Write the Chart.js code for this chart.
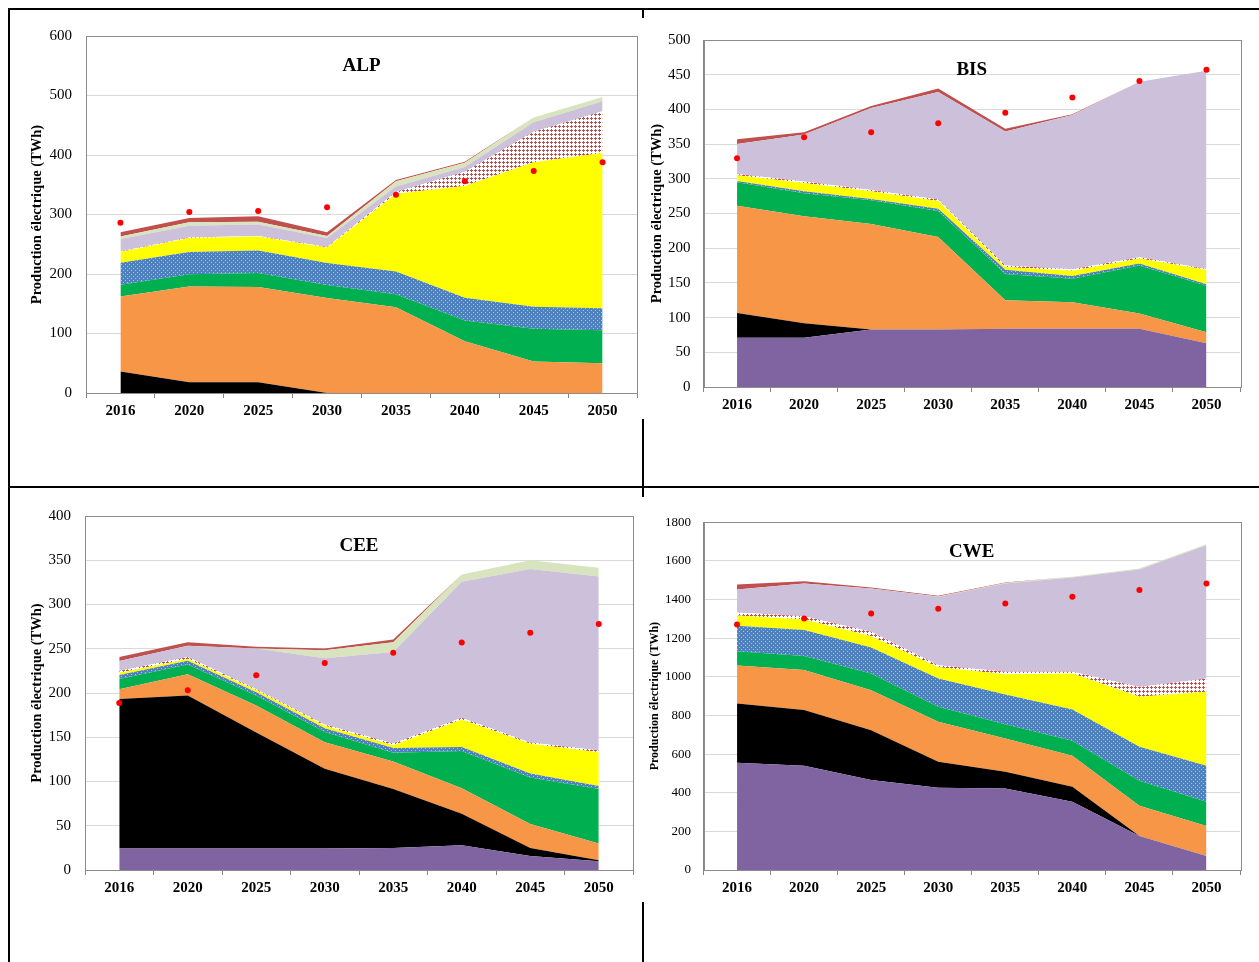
<!DOCTYPE html>
<html><head><meta charset="utf-8">
<script src="https://cdn.jsdelivr.net/npm/chart.js@4.4.1/dist/chart.umd.min.js"></script>
<style>
html,body{margin:0;padding:0;background:#fff;width:1259px;height:962px;overflow:hidden;position:relative;}
.ln{position:absolute;background:#000;}
canvas{position:absolute;}
</style></head><body>
<div class="ln" style="left:8px;top:8px;width:1251px;height:2px"></div>
<div class="ln" style="left:8px;top:8px;width:2px;height:954px"></div>
<div class="ln" style="left:8px;top:486px;width:1251px;height:2px"></div>
<div class="ln" style="left:642px;top:8px;width:2px;height:10px"></div>
<div class="ln" style="left:642px;top:419px;width:2px;height:78px"></div>
<div class="ln" style="left:642px;top:902px;width:2px;height:60px"></div>
<canvas id="cALP"></canvas>
<canvas id="cBIS"></canvas>
<canvas id="cCEE"></canvas>
<canvas id="cCWE"></canvas>
<script>
// ---------- DATA ----------
const years = ['2016','2020','2025','2030','2035','2040','2045','2050'];

// ALP
const alpPurple    = [0, 0, 0, 0, 0, 0, 0, 0];
const alpBlack     = [36, 18, 18, 0, 0, 0, 0, 0];
const alpOrange    = [126, 161, 160, 159.5, 144, 87, 53, 50];
const alpGreen     = [20, 20.5, 23.5, 22, 22, 35, 55, 55.5];
const alpBlue      = [37, 37.5, 38, 37, 38, 38, 37, 37];
const alpYellow    = [18, 23.5, 23.5, 26, 131, 188, 243, 261];
const alpRedDots   = [1, 1, 1, 1, 3, 24, 51, 70];
const alpLilac     = [21, 19.5, 19, 15, 9, 8, 16, 17];
const alpPaleGreen = [4, 6, 5, 3.5, 9, 7, 8, 7];
const alpDarkRed   = [7, 7, 9, 6, 2, 1.5, 0, 0];
const alpDemand    = [286, 304, 306, 312, 333, 356, 373, 388];

// BIS
const bisPurple    = [71, 71, 83, 83, 84, 84, 84, 63];
const bisBlack     = [35.5, 21, 0, 0, 0, 0, 0, 0];
const bisOrange    = [154.5, 154, 152, 133, 41, 38, 22, 16];
const bisGreen     = [34, 33, 34, 37.6, 38, 34, 69, 67];
const bisBlue      = [2, 3, 2, 3.4, 6, 4, 3, 2];
const bisYellow    = [8, 12, 11, 11, 4, 7.6, 7, 21];
const bisRedDots   = [2, 2, 2, 2, 2, 2, 2, 1];
const bisLilac     = [43, 68, 118, 155, 193, 222.5, 253, 285.6];
const bisPaleGreen = [0, 0, 0, 0, 0, 0, 0, 0];
const bisDarkRed   = [7, 3, 3, 5, 4, 1, 0, 0];
const bisDemand    = [329.5, 360, 367, 380, 395, 417, 441, 457];

// CEE
const ceePurple    = [24.3, 24.3, 24.3, 24.3, 25, 28, 15.7, 10];
const ceeBlack     = [169, 173, 131, 90, 66.5, 35.5, 9.3, 1];
const ceeOrange    = [11, 24, 30.6, 30, 31, 29, 27, 19];
const ceeGreen     = [11.5, 11, 11.4, 11.7, 10, 42, 52.5, 61.5];
const ceeBlue      = [4.4, 4, 3.5, 4.3, 5.4, 4.5, 4.5, 3.5];
const ceeYellow    = [2.6, 2, 2.5, 2.6, 3, 31, 33.6, 38];
const ceeRedDots   = [2, 2.5, 1, 1.4, 2, 2, 1.5, 2];
const ceeLilac     = [11.4, 12.5, 46, 75, 103.5, 153.7, 196, 196.6];
const ceePaleGreen = [0, 0, 0, 9, 11, 8.3, 10, 10];
const ceeDarkRed   = [4.6, 4, 2, 2, 3, 0, 0, 0];
const ceeDemand    = [188.6, 203, 220, 234, 245.4, 257, 268, 278];

// CWE
const cwePurple    = [555, 540, 466, 426, 422, 353, 176, 72];
const cweBlack     = [307, 288, 258, 134, 86, 78, 0, 0];
const cweOrange    = [197, 207, 207, 207, 173, 160, 157, 156];
const cweGreen     = [74, 73, 86, 78, 74, 78, 129, 125];
const cweBlue      = [131, 134, 135, 147, 154, 162, 176, 187];
const cweYellow    = [53, 55, 58, 57, 105, 186, 259, 383];
const cweRedDots   = [16, 17, 23, 11, 12, 9, 51, 69];
const cweLilac     = [119, 169, 224, 354, 457, 488, 608, 689];
const cwePaleGreen = [0, 0, 0, 2, 3, 4, 5, 5];
const cweDarkRed   = [26, 12, 5, 4, 2, 0, 0, 0];
const cweDemand    = [1271, 1302, 1328, 1353, 1380, 1414, 1449, 1483];

const yTitle = 'Production électrique (TWh)';

// ---------- STYLE ----------
function tile(bg, fg, cells){
  const c = document.createElement('canvas'); c.width = 4; c.height = 4;
  const x = c.getContext('2d'); x.fillStyle = bg; x.fillRect(0,0,4,4);
  x.fillStyle = fg; cells.forEach(([i,j]) => x.fillRect(i,j,1,1));
  return x.createPattern(c, 'repeat');
}
const bluePat = tile('#4F81BD', 'rgba(255,255,255,0.5)', [[1,1],[3,3]]);
const redPat  = tile('#ffffff', '#C0504D', [[1,0],[0,1],[1,1],[2,1],[1,2]]);
const colors = ['#8064A2', '#000000', '#F79646', '#00B050', bluePat, '#FFFF00', redPat, '#CCC0DA', '#D7E4BD', '#C0504D'];

const SERIF = '"Liberation Serif", "Times New Roman", serif';

const framePlugin = {
  id: 'frame',
  afterDatasetsDraw(chart, args, opts){
    const {ctx, chartArea: a} = chart;
    ctx.save();
    ctx.strokeStyle = '#8c8c8c'; ctx.lineWidth = 1;
    ctx.strokeRect(Math.round(a.left)+0.5, Math.round(a.top)+0.5, Math.round(a.right-a.left), Math.round(a.bottom-a.top));
    ctx.fillStyle = '#000'; ctx.font = 'bold 19px ' + SERIF;
    ctx.textAlign = 'center'; ctx.textBaseline = 'middle';
    ctx.fillText(opts.text, (a.left+a.right)/2, a.top + 30);
    ctx.restore();
  }
};

function makeChart(id, geo, name, series, demand, yMax, yStep, yFontSize, titleSize, yPad){
  const cv = document.getElementById(id);
  const W = Math.round(geo.R + 4 - geo.cl), H = Math.round(geo.B + 34 - geo.ct);
  cv.width = W; cv.height = H;
  cv.style.left = geo.cl + 'px'; cv.style.top = geo.ct + 'px';
  const lh = titleSize * 1.2;
  const datasets = series.map((d, i) => ({
    data: d, backgroundColor: colors[i], borderColor: colors[i], borderWidth: 0,
    pointRadius: 0, fill: i === 0 ? 'origin' : '-1', tension: 0, stack: 'main'
  }));
  datasets.push({
    data: demand, showLine: false, pointRadius: 3, pointHoverRadius: 3,
    pointBackgroundColor: '#FF0000', pointBorderWidth: 0, fill: false,
    stack: 'demand', order: -1
  });
  return new Chart(cv, {
    type: 'line',
    data: { labels: years, datasets },
    options: {
      responsive: false, animation: false, devicePixelRatio: 1,
      layout: { padding: { left: 0, top: geo.T - geo.ct, right: 4, bottom: 0 } },
      plugins: { legend: { display: false }, tooltip: { enabled: false }, frame: { text: name } },
      scales: {
        x: {
          type: 'category', offset: true,
          grid: { offset: true, drawOnChartArea: false, drawTicks: true, tickLength: 5, color: '#868686' },
          border: { color: '#868686' },
          ticks: { color: '#000', font: { family: SERIF, size: 15, weight: 'bold' }, padding: 4, maxRotation: 0, autoSkip: false },
          afterFit(s){ s.height = 34; }
        },
        y: {
          stacked: true, min: 0, max: yMax,
          grid: { color: '#D9D9D9', drawTicks: false },
          border: { color: '#868686' },
          ticks: { stepSize: yStep, color: '#000', font: { family: SERIF, size: yFontSize }, padding: yPad,
                   callback: v => String(v) },
          title: { display: true, text: yTitle, color: '#000',
                   font: { family: SERIF, size: titleSize, weight: 'bold' },
                   padding: { top: geo.tx - geo.cl - lh/2, bottom: 0 } },
          afterFit(s){ s.width = geo.L - geo.cl; }
        }
      }
    },
    plugins: [framePlugin]
  });
}

makeChart('cALP', {cl:26, ct:13, L:86, T:33, R:637, B:393, tx:37}, 'ALP',
  [alpPurple, alpBlack, alpOrange, alpGreen, alpBlue, alpYellow, alpRedDots, alpLilac, alpPaleGreen, alpDarkRed],
  alpDemand, 600, 100, 15, 14.5, 14);
makeChart('cBIS', {cl:646, ct:18, L:703.5, T:38, R:1239.5, B:387, tx:657}, 'BIS',
  [bisPurple, bisBlack, bisOrange, bisGreen, bisBlue, bisYellow, bisRedDots, bisLilac, bisPaleGreen, bisDarkRed],
  bisDemand, 500, 50, 15, 14.5, 13);
makeChart('cCEE', {cl:26, ct:493, L:85, T:513, R:633, B:870, tx:37}, 'CEE',
  [ceePurple, ceeBlack, ceeOrange, ceeGreen, ceeBlue, ceeYellow, ceeRedDots, ceeLilac, ceePaleGreen, ceeDarkRed],
  ceeDemand, 400, 50, 15, 14.5, 14);
makeChart('cCWE', {cl:646, ct:502, L:703.5, T:522, R:1239.5, B:870, tx:655}, 'CWE',
  [cwePurple, cweBlack, cweOrange, cweGreen, cweBlue, cweYellow, cweRedDots, cweLilac, cwePaleGreen, cweDarkRed],
  cweDemand, 1800, 200, 13, 12, 12.5);
</script>
</body></html>
